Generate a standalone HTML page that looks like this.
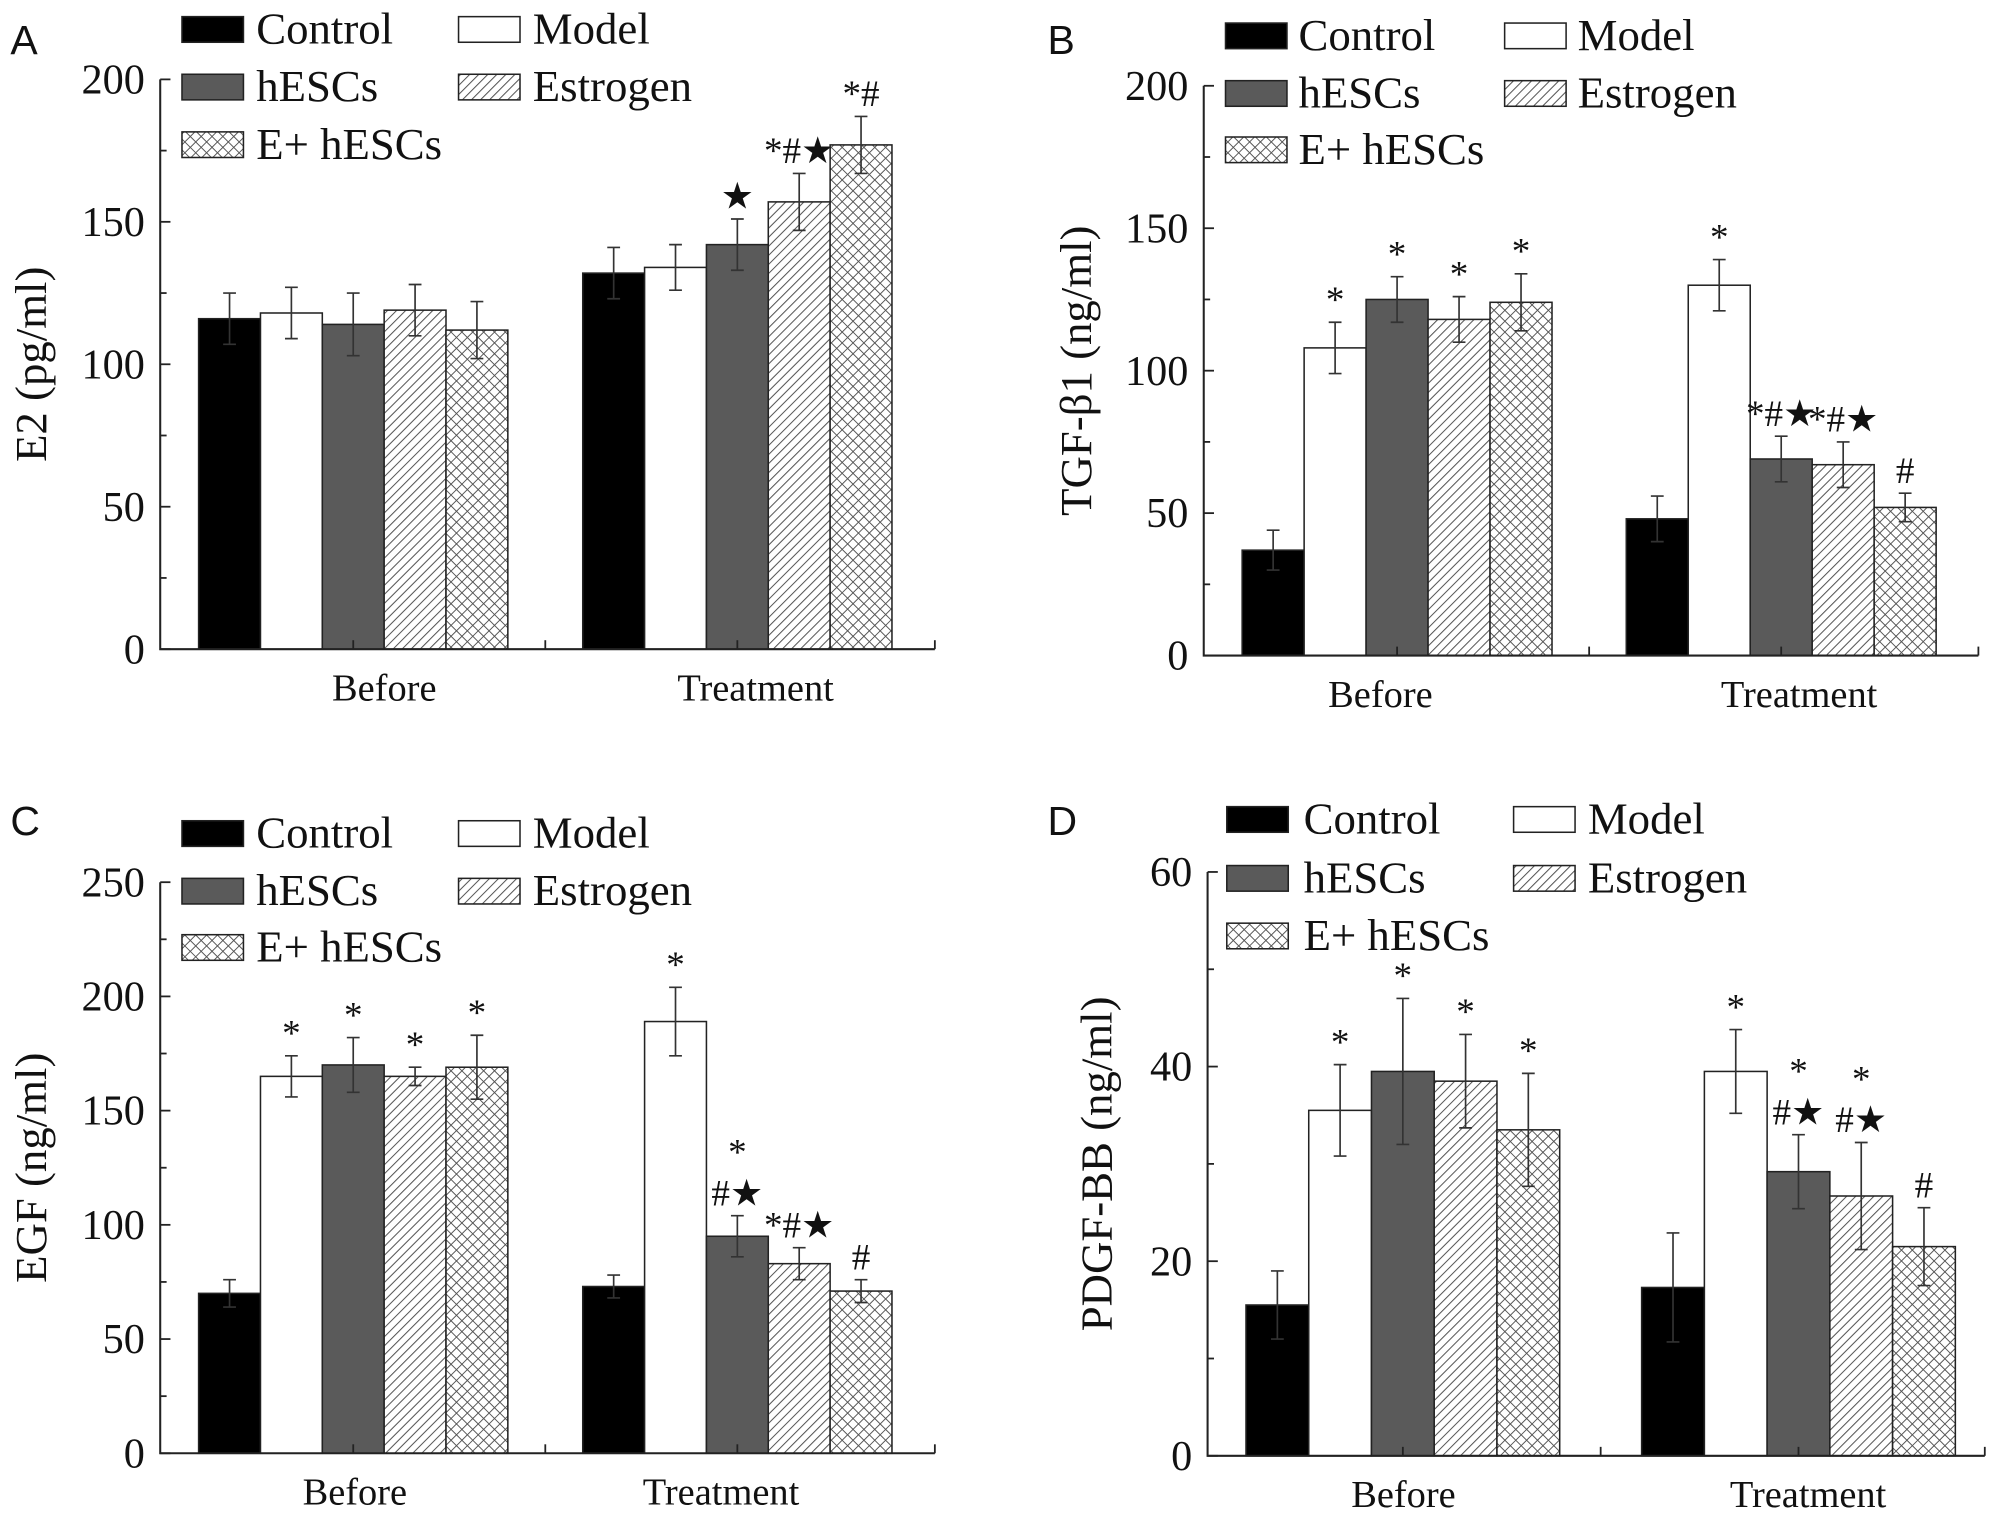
<!DOCTYPE html>
<html><head><meta charset="utf-8"><style>
html,body{margin:0;padding:0;background:#fff;}
svg{display:block;}
text{font-family:"Liberation Serif",serif;fill:#111;}
.lab{font-family:"Liberation Sans",sans-serif;}
</style></head><body>
<svg id="fig" width="2008" height="1516" viewBox="0 0 1568 1184" xmlns="http://www.w3.org/2000/svg">
<defs>
<pattern id="hatch" patternUnits="userSpaceOnUse" width="5" height="5" patternTransform="rotate(45)">
<rect width="5" height="5" fill="#fff"/><line x1="0" y1="0" x2="0" y2="5" stroke="#555" stroke-width="1.6"/></pattern>
<pattern id="cross" patternUnits="userSpaceOnUse" width="6" height="6" patternTransform="rotate(45)">
<rect width="6" height="6" fill="#fff"/><line x1="0" y1="0" x2="0" y2="6" stroke="#555" stroke-width="1.5"/><line x1="0" y1="0" x2="6" y2="0" stroke="#555" stroke-width="1.5"/></pattern>
</defs>
</svg>
<script>
const groups = ["Control","Model","hESCs","Estrogen","E+ hESCs"];
const categories = ["Before","Treatment"];
// Panel A E2
const aBefore = [116,118,114,119,112];
const aBeforeErr = [9,9,11,9,10];
const aTreat = [132,134,142,157,177];
const aTreatErr = [9,8,9,10,10];
const aTicks = [0,50,100,150,200];
const aBeforeAnn = ["","","","",""];
const aTreatAnn = ["","","★","*#★","*#"];
// Panel B TGF
const bBefore = [37,108,125,118,124];
const bBeforeErr = [7,9,8,8,10];
const bTreat = [48,130,69,67,52];
const bTreatErr = [8,9,8,8,5];
const bTicks = [0,50,100,150,200];
const bBeforeAnn = ["","*","*","*","*"];
const bTreatAnn = ["","*","*#★","*#★","#"];
// Panel C EGF
const cBefore = [70,165,170,165,169];
const cBeforeErr = [6,9,12,4,14];
const cTreat = [73,189,95,83,71];
const cTreatErr = [5,15,9,7,5];
const cTicks = [0,50,100,150,200,250];
const cBeforeAnn = ["","*","*","*","*"];
const cTreatAnn = ["","*","*|#★","*#★","#"];
// Panel D PDGF
const dBefore = [15.5,35.5,39.5,38.5,33.5];
const dBeforeErr = [3.5,4.7,7.5,4.8,5.8];
const dTreat = [17.3,39.5,29.2,26.7,21.5];
const dTreatErr = [5.6,4.3,3.8,5.5,4];
const dTicks = [0,20,40,60];
const dBeforeAnn = ["","*","*","*","*"];
const dTreatAnn = ["","*","*|#★","*|#★","#"];

const fills = ["#000","#fff","#5a5a5a","url(#hatch)","url(#cross)"];
const NS="http://www.w3.org/2000/svg";
const svg=document.getElementById('fig');
function mk(tag,attrs,parent){const e=document.createElementNS(NS,tag);for(const k in attrs)e.setAttribute(k,attrs[k]);(parent||svg).appendChild(e);return e;}

const panels=[
 {id:"a",letter:"A",title:"E2 (pg/ml)",x0:125,x1:730,yTop:62,yBot:507,max:200,minor:25,ticks:aTicks,starts:[155,455],w:48.3,labX:[300,590],data:[aBefore,aTreat],err:[aBeforeErr,aTreatErr],ann:[aBeforeAnn,aTreatAnn],leg:{sx:142,tx:200,mx:358,mtx:416,y:[23,68,113]},lx:8,ly:42,titleX:36},
 {id:"b",letter:"B",title:"TGF-β1 (ng/ml)",x0:940,x1:1545,yTop:67,yBot:512,max:200,minor:25,ticks:bTicks,starts:[970,1270],w:48.4,labX:[1078,1405],data:[bBefore,bTreat],err:[bBeforeErr,bTreatErr],ann:[bBeforeAnn,bTreatAnn],leg:{sx:957,tx:1014,mx:1175,mtx:1232,y:[28,73,117]},lx:818,ly:42,titleX:852},
 {id:"c",letter:"C",title:"EGF (ng/ml)",x0:125,x1:730,yTop:689,yBot:1135,max:250,minor:25,ticks:cTicks,starts:[155,455],w:48.3,labX:[277,563],data:[cBefore,cTreat],err:[cBeforeErr,cTreatErr],ann:[cBeforeAnn,cTreatAnn],leg:{sx:142,tx:200,mx:358,mtx:416,y:[651,696,740]},lx:8,ly:652,titleX:36},
 {id:"d",letter:"D",title:"PDGF-BB (ng/ml)",x0:943,x1:1550,yTop:681,yBot:1137,max:60,minor:10,ticks:dTicks,starts:[973,1282],w:49,labX:[1096,1412],data:[dBefore,dTreat],err:[dBeforeErr,dTreatErr],ann:[dBeforeAnn,dTreatAnn],leg:{sx:958,tx:1018,mx:1182,mtx:1240,y:[640,686,731]},lx:818,ly:652,titleX:868}
];

panels.forEach(p=>{
 const g=mk('g',{});
 
 
 const y=v=>p.yBot-(v/p.max)*(p.yBot-p.yTop);
 const L=mk('text',{x:p.lx,y:p.ly,'font-size':32,class:'lab'},g);L.textContent=p.letter;
 
 
 p.data.forEach((arr,ci)=>{
  arr.forEach((v,i)=>{
   const bx=p.starts[ci]+i*p.w;
   const r=mk('rect',{x:bx,y:y(v),width:p.w,height:p.yBot-y(v),fill:fills[i],stroke:'#222','stroke-width':1.2},g);
   
   
   const cx=bx+p.w/2,e=p.err[ci][i];
   const eb=mk('path',{d:`M${cx},${y(v+e)}V${y(v-e)}M${cx-5},${y(v+e)}H${cx+5}M${cx-5},${y(v-e)}H${cx+5}`,stroke:'#333','stroke-width':1.3,fill:'none'},g);
   
   
   const a=p.ann[ci][i];
   if(a){const parts=a.split('|');const top=y(v+e)-8;
    parts.forEach((t,k)=>{const tx=mk('text',{x:cx,y:top-(parts.length-1-k)*32,'font-size':29,'text-anchor':'middle'},g);tx.textContent=t;
     
     });}
  });
 });
 const ax=mk('path',{d:`M${p.x0},${p.yTop}V${p.yBot}H${p.x1}`,stroke:'#222','stroke-width':1.6,fill:'none'},g);
 
 
 for(let v=0;v<=p.max;v+=p.minor){const isMaj=p.ticks.includes(v);
  mk('line',{x1:p.x0,x2:p.x0+(isMaj?8:5),y1:y(v),y2:y(v),stroke:'#222','stroke-width':1.4},g);}
 p.ticks.forEach(t=>{const s=String(t);const tx=mk('text',{x:p.x0-12,y:y(t)+11,'font-size':33,'text-anchor':'end'},g);tx.textContent=s;
  
  });
 const mids=[p.starts[0]+2.5*p.w,(p.starts[0]+5*p.w+p.starts[1])/2,p.starts[1]+2.5*p.w,p.x1];
 mids.forEach(m=>mk('line',{x1:m,x2:m,y1:p.yBot,y2:p.yBot-7,stroke:'#222','stroke-width':1.4},g));
 categories.forEach((c,ci)=>{const tx=mk('text',{x:p.labX[ci],y:p.yBot+40,'font-size':30,'text-anchor':'middle'},g);tx.textContent=c;
  
  });
 const midY=(p.yTop+p.yBot)/2;
 const yt=mk('text',{x:p.titleX,y:midY,'font-size':35,'text-anchor':'middle',transform:`rotate(-90 ${p.titleX} ${midY})`},g);yt.textContent=p.title;
 
 
 const lp=[[p.leg.sx,p.leg.tx,0],[p.leg.mx,p.leg.mtx,0],[p.leg.sx,p.leg.tx,1],[p.leg.mx,p.leg.mtx,1],[p.leg.sx,p.leg.tx,2]];
 groups.forEach((gname,i)=>{const [sx,tx,row]=lp[i];const cy=p.leg.y[row];
  const le=mk('g',{},g);
  
  
  mk('rect',{x:sx,y:cy-10,width:48,height:20,fill:fills[i],stroke:'#222','stroke-width':1.2},le);
  const t=mk('text',{x:tx,y:cy+11,'font-size':35},le);t.textContent=gname;});
});
</script>
</body></html>
